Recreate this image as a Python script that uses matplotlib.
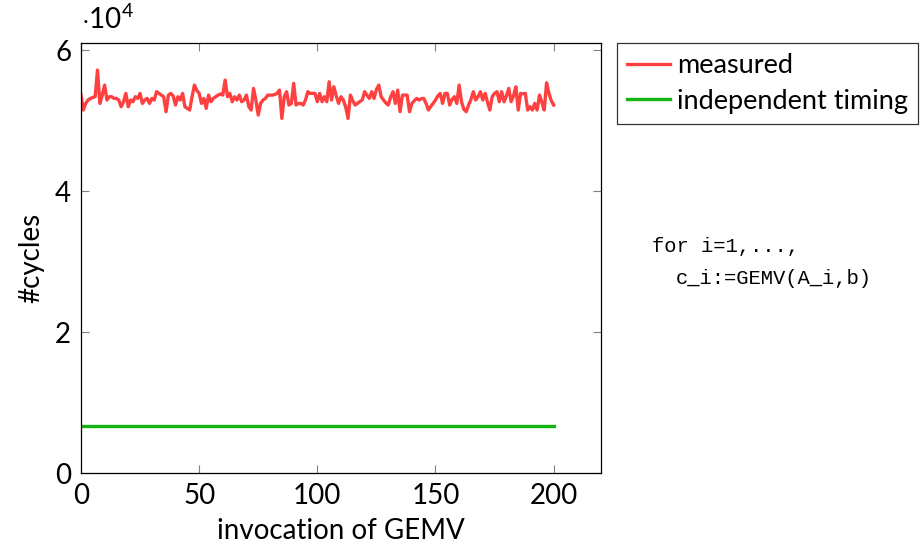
import matplotlib as mpl
import matplotlib.pyplot as plt
import numpy as np

mpl.rcParams['font.family'] = ['Lato', 'DejaVu Sans']
mpl.rcParams['mathtext.fontset'] = 'custom'
mpl.rcParams['mathtext.rm'] = 'Lato'
mpl.rcParams['mathtext.it'] = 'Lato'

# 計測値（読み取り値）
measured = [
    53610, 51490, 52430, 52910, 53140, 53280, 53380, 57160, 52430, 53600,
    55030, 52910, 53380, 53380, 53140, 53140, 52910, 51960, 52670, 53850,
    51960, 52910, 52670, 53380, 53140, 53850, 52430, 52910, 53140, 52430,
    53140, 52910, 54090, 53850, 53610, 53380, 51250, 53610, 53850, 53500,
    52200, 53380, 52910, 53850, 51960, 51720, 51490, 53380, 55030, 54300,
    53850, 52430, 53140, 51720, 53610, 52670, 53140, 53380, 53610, 53760,
    53610, 55740, 53380, 53850, 52670, 53380, 52910, 53610, 52670, 52910,
    53610, 52000, 51490, 54560, 52910, 50780, 52430, 52900, 53140, 53600,
    53610, 53610, 53700, 53850, 54320, 50300, 53380, 54090, 52200, 52430,
    55270, 52200, 52430, 52430, 52200, 52910, 54090, 53850, 53850, 53850,
    52670, 53850, 52670, 53380, 52670, 55500, 52910, 54790, 53500, 52430,
    53380, 52910, 51900, 50300, 53610, 52800, 52200, 52430, 52700, 52910,
    54090, 53600, 53140, 54090, 53140, 54400, 55030, 53380, 52910, 52500,
    52200, 53300, 54090, 52430, 54320, 51250, 53610, 53610, 53610, 51250,
    52430, 52800, 53140, 52910, 53100, 53140, 52430, 51490, 52000, 52430,
    52910, 53500, 53850, 52430, 53850, 53850, 52200, 53000, 53380, 52430,
    55030, 52670, 51600, 51250, 52200, 53000, 54090, 52910, 53380, 54090,
    52910, 53850, 52600, 51490, 53380, 53850, 54090, 52670, 54090, 52670,
    53500, 54560, 52670, 53500, 54790, 51490, 53850, 53800, 53850, 51490,
    51960, 51490, 52430, 51490, 53610, 52600, 51490, 55360, 53850, 52800,
    52200,
]
independent = [6650] * len(measured)
invocation = np.arange(len(measured))

fig = plt.figure(figsize=(9.21, 5.45), dpi=100)
ax = fig.add_axes([0.0879, 0.1321, 0.5646, 0.789])

ax.plot(invocation, measured, color='#ff4040', linewidth=2.4, label='measured')
ax.plot(invocation, independent, color='#14b414', linewidth=2.4, label='independent timing')

ax.set_xlim(0, 220)
ax.set_ylim(0, 61000)
ax.set_xticks([0, 50, 100, 150, 200])
ax.set_yticks([0, 20000, 40000, 60000])
ax.set_yticklabels(['0', '2', '4', '6'])
ax.tick_params(direction='in', length=6, width=0.8, color='#808080',
               top=True, right=True, labelsize=20, pad=7)
for s in ax.spines.values():
    s.set_linewidth(0.9)

ax.set_xlabel('invocation of GEMV', fontsize=20, labelpad=7)
ax.set_ylabel('#cycles', fontsize=20, labelpad=8)
ax.text(0.0, 1.02, r'$\cdot10^{4}$', transform=ax.transAxes, fontsize=20,
        ha='left', va='bottom')

leg = ax.legend(loc='upper left', bbox_to_anchor=(1.03, 1.0), fontsize=19.5,
                frameon=True, fancybox=False, edgecolor='black',
                borderaxespad=0, handlelength=1.6, handletextpad=0.25,
                borderpad=0.38, labelspacing=0.38)
leg.get_frame().set_linewidth(0.9)

fig.text(652 / 921, 1 - 246 / 545, 'for i=1,...,', family='Liberation Mono',
         fontsize=14.8, va='center', ha='left')
fig.text(676 / 921, 1 - 278 / 545, 'c_i:=GEMV(A_i,b)', family='Liberation Mono',
         fontsize=14.8, va='center', ha='left')

fig.savefig('out.png', dpi=100)
